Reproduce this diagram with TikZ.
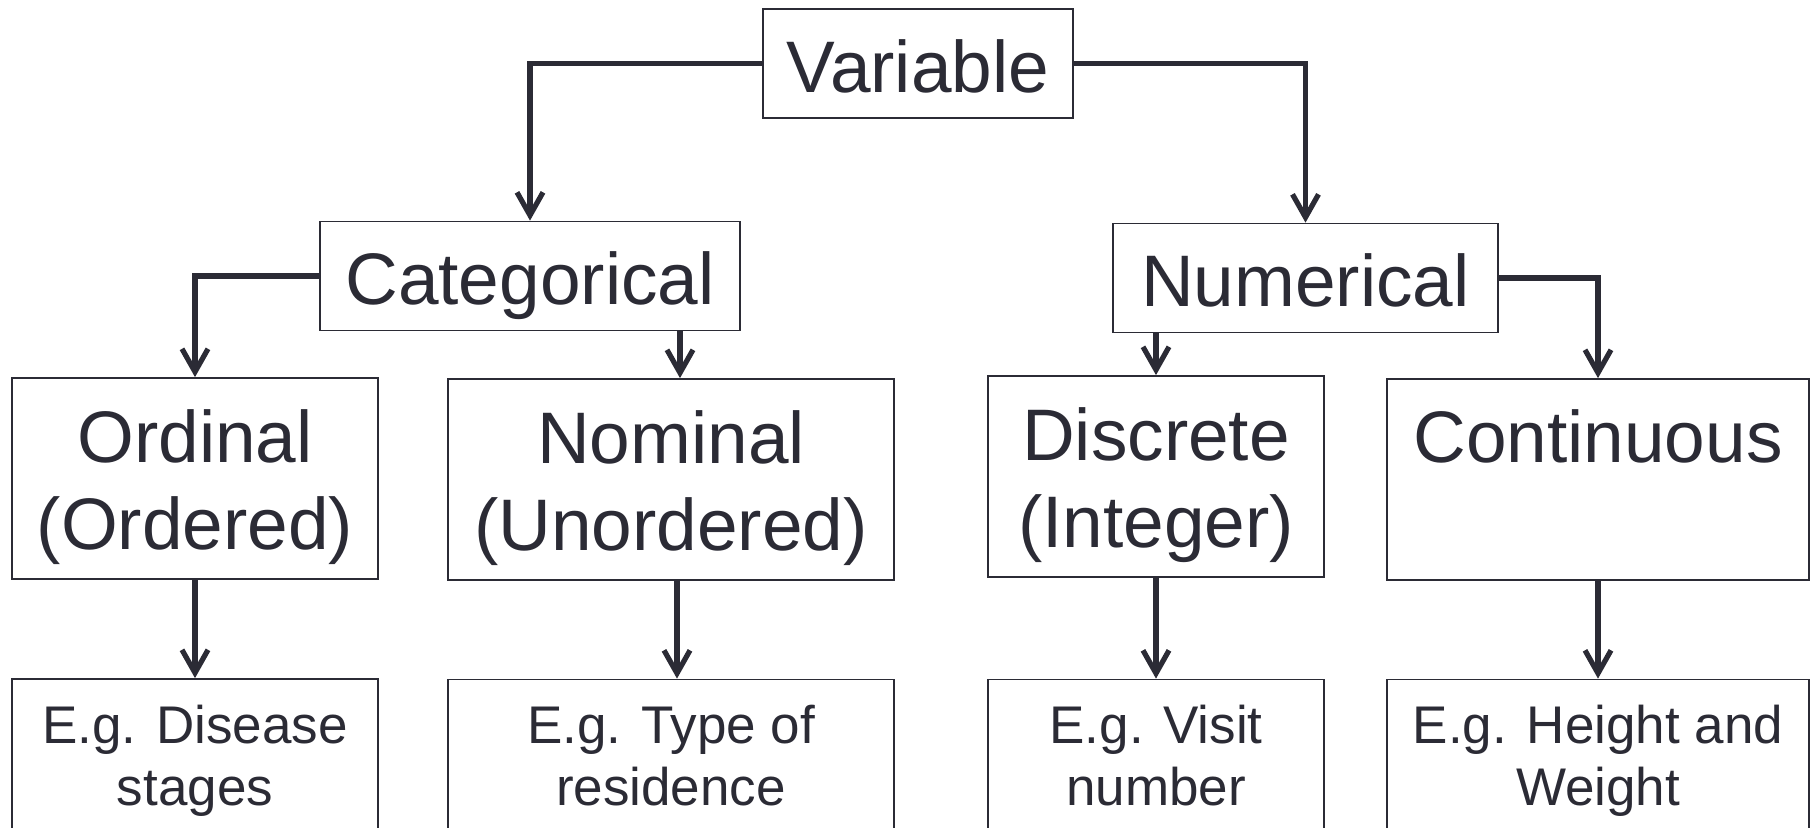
\documentclass[tikz,border=0pt]{standalone}
\usepackage{fontspec}
\setmainfont{Liberation Sans}
\usepackage{xcolor}
\usetikzlibrary{arrows.meta,positioning,calc}
\definecolor{ink}{RGB}{43,43,53}
\tikzset{
  headbox/.style={rectangle,draw=ink,line width=0.9pt,text=ink,inner sep=2pt,
                  font=\fontsize{36.5pt}{43.5pt}\selectfont,text height=33pt,text depth=4.5pt,
                  minimum height=54.5pt},
  typebox/.style={rectangle,draw=ink,line width=0.9pt,text=ink,inner sep=2pt,align=center,
                  font=\fontsize{36.5pt}{43.5pt}\selectfont,text height=73.5pt,text depth=3pt,
                  minimum height=100.5pt},
  egbox/.style={rectangle,draw=ink,line width=0.9pt,text=ink,inner sep=2pt,align=center,
                font=\fontsize{26.5pt}{31pt}\selectfont,text height=50pt,text depth=5pt,
                minimum height=81pt},
  arr/.style={-{Straight Barb[length=11.5pt,width=13pt]},draw=ink,line width=2.6pt},
}
\begin{document}
\begin{tikzpicture}[x=0.5pt,y=-0.5pt]
  \useasboundingbox (0,0) rectangle (1811,827);
  % top levels
  \node[headbox,minimum width=155pt] (var) at (918,63.5) {Variable};
  \node[headbox,minimum width=210pt] (cat) at (530,276) {Categorical};
  \node[headbox,minimum width=192.5pt] (num) at (1305.5,278) {Numerical};
  % variable types
  \node[typebox,minimum width=183pt] (ord) at (195,478.5) {Ordinal\\(Ordered)};
  \node[typebox,minimum width=223pt] (nom) at (671,479.5) {Nominal\\(Unordered)};
  \node[typebox,minimum width=168pt] (dis) at (1156,476.5) {Discrete\\(Integer)};
  \node[typebox,minimum width=211pt,text height=30pt,text depth=47pt] (con) at (1598,479.5) {Continuous};
  % examples
  \node[egbox,minimum width=183pt] (ordex) at (195,760) {E.g. Disease\\stages};
  \node[egbox,minimum width=223pt] (nomex) at (671,760.5) {E.g. Type of\\residence};
  \node[egbox,minimum width=168pt] (disex) at (1156,760.5) {E.g. Visit\\number};
  \node[egbox,minimum width=211pt] (conex) at (1598,760.5) {E.g. Height and\\Weight};
  % connectors
  \draw[arr] (var.west) -| (cat.north);
  \draw[arr] (var.east) -| (num.north);
  \draw[arr] (cat.west) -| (ord.north);
  \draw[arr] ($(nom.north |- cat.south)+(9,0)$) -- ($(nom.north)+(9,0)$);
  \draw[arr] (dis.north |- num.south) -- (dis.north);
  \draw[arr] (num.east) -| (con.north);
  \draw[arr] (ord.south) -- (ordex.north);
  \draw[arr] ($(nom.south)+(6,0)$) -- ($(nomex.north)+(6,0)$);
  \draw[arr] (dis.south) -- (disex.north);
  \draw[arr] (con.south) -- (conex.north);
\end{tikzpicture}
\end{document}
